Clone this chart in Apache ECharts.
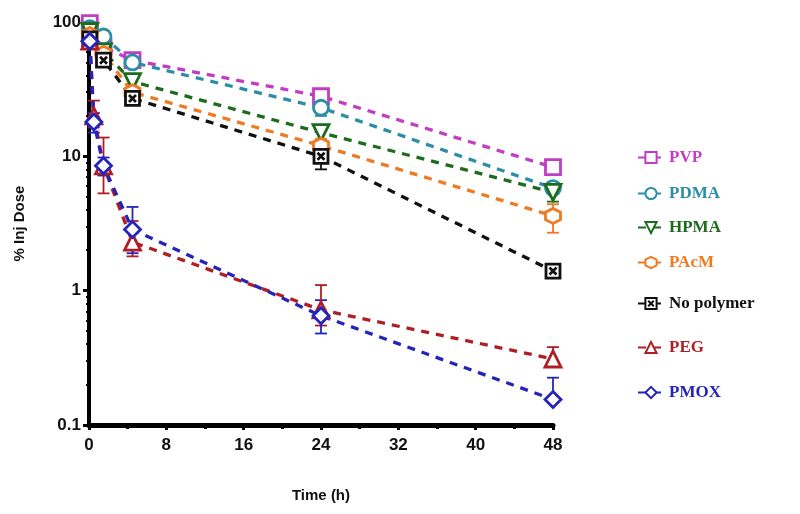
<!DOCTYPE html>
<html><head><meta charset="utf-8">
<script src="https://cdn.jsdelivr.net/npm/echarts@6/dist/echarts.min.js"></script>
<style>html,body{margin:0;padding:0;background:#fff}#c{width:800px;height:514px}</style>
</head><body><div id="c"></div>
<script>
// ---- data ----
const xTicks = [0, 8, 16, 24, 32, 40, 48];
const yTicks = [0.1, 1, 10, 100];
const timesA = [0.083, 1.5, 4.5, 24, 48];
const timesB = [0.083, 0.5, 1.5, 4.5, 24, 48];

const pvp      = [98, 65, 52, 28, 8.3];
const pvpLo    = [92, 61, 49, 26, 7.6];
const pvpHi    = [104, 69, 56, 30, 9.0];

const pdma     = [90, 78, 50, 23, 5.8];
const pdmaLo   = [84, 72, 46, 20, 5.3];
const pdmaHi   = [96, 84, 54, 26, 6.3];

const hpma     = [85, 60, 36, 15, 5.4];
const hpmaLo   = [80, 56, 33, 13.5, 4.6];
const hpmaHi   = [90, 64, 39, 16.5, 6.4];

const pacm     = [80, 58, 30, 12, 3.6];
const pacmLo   = [75, 54, 27, 10.5, 2.7];
const pacmHi   = [85, 62, 33, 13.5, 4.4];

const nopoly   = [75, 52, 27, 10, 1.4];
const nopolyLo = [70, 48, 25, 8.0, 1.3];
const nopolyHi = [80, 56, 29, 12, 1.5];

const peg      = [72, 20, 8.5, 2.3, 0.72, 0.31];
const pegLo    = [66, 16.4, 5.3, 1.8, 0.55, 0.28];
const pegHi    = [78, 26, 13.8, 3.3, 1.1, 0.38];

const pmox     = [72, 18, 8.5, 2.85, 0.65, 0.155];
const pmoxLo   = [66, 15, 7.2, 1.9, 0.48, 0.15];
const pmoxHi   = [78, 21, 9.8, 4.2, 0.85, 0.225];

const names  = ['PVP', 'PDMA', 'HPMA', 'PAcM', 'No polymer', 'PEG', 'PMOX'];
const colors = ['#c23cc4', '#2c8ea6', '#1e6b1e', '#f07a22', '#111111', '#b01e24', '#2424bd'];
// ---------------------------------------

const sets = [
  {t: timesA, v: pvp, lo: pvpLo, hi: pvpHi, sym: 'rect', size: 15, rot: 0},
  {t: timesA, v: pdma, lo: pdmaLo, hi: pdmaHi, sym: 'circle', size: 15, rot: 0},
  {t: timesA, v: hpma, lo: hpmaLo, hi: hpmaHi, sym: 'triangle', size: 16, rot: 180},
  {t: timesA, v: pacm, lo: pacmLo, hi: pacmHi, sym: 'path://M5,0L9.33,2.5L9.33,7.5L5,10L0.67,7.5L0.67,2.5Z', size: 15, rot: 0},
  {t: timesA, v: nopoly, lo: nopolyLo, hi: nopolyHi, sym: 'path://M0,0L10,0L10,10L0,10Z M2.5,2.5L7.5,7.5 M7.5,2.5L2.5,7.5', size: 14, rot: 0},
  {t: timesB, v: peg, lo: pegLo, hi: pegHi, sym: 'triangle', size: 16, rot: 0},
  {t: timesB, v: pmox, lo: pmoxLo, hi: pmoxHi, sym: 'diamond', size: 16, rot: 0}
];

const series = [];
sets.forEach((s, i) => {
  const c = colors[i];
  series.push({
    type: 'custom',
    name: names[i] + ' err',
    data: s.t.map((t, k) => [t, s.lo[k], s.hi[k]]),
    renderItem: function (params, api) {
      const x = api.value(0);
      const p1 = api.coord([x, api.value(1)]);
      const p2 = api.coord([x, api.value(2)]);
      const w = 6;
      const st = {stroke: c, lineWidth: 1.8};
      return {type: 'group', children: [
        {type: 'line', shape: {x1: p1[0], y1: p1[1], x2: p2[0], y2: p2[1]}, style: st},
        {type: 'line', shape: {x1: p1[0] - w, y1: p1[1], x2: p1[0] + w, y2: p1[1]}, style: st},
        {type: 'line', shape: {x1: p2[0] - w, y1: p2[1], x2: p2[0] + w, y2: p2[1]}, style: st}
      ]};
    },
    z: 3,
    silent: true
  });
  series.push({
    type: 'line',
    name: names[i],
    data: s.t.map((t, k) => [t, s.v[k]]),
    symbol: s.sym,
    symbolSize: s.size,
    symbolRotate: s.rot,
    showAllSymbol: true,
    lineStyle: {color: c, width: 3.3, type: [8, 7]},
    itemStyle: {color: '#ffffff', borderColor: c, borderWidth: 2.8},
    z: 4
  });
});

const legendTops = [144, 180, 214, 249, 290, 334, 379];
const legends = names.map((n, i) => ({
  data: [{name: n, textStyle: {color: colors[i]}}],
  left: 632, top: legendTops[i],
  itemWidth: 26, itemHeight: 14, itemGap: 6,
  textStyle: {fontFamily: 'Liberation Serif', fontWeight: 'bold', fontSize: 17},
  selectedMode: false
}));

const axisFont = {fontFamily: 'Liberation Sans', fontWeight: 'bold', fontSize: 17, color: '#111'};

const chart = echarts.init(document.getElementById('c'));
chart.setOption({
  animation: false,
  backgroundColor: '#fff',
  legend: legends,
  grid: {left: 89, right: 247, top: 22, bottom: 89},
  xAxis: {
    type: 'value', min: 0, max: 48, interval: 8,
    name: 'Time (h)', nameLocation: 'middle', nameGap: 63,
    nameTextStyle: {fontFamily: 'Liberation Sans', fontWeight: 'bold', fontSize: 15, color: '#111'},
    axisLine: {lineStyle: {color: '#000', width: 5}},
    axisTick: {show: true, length: 5, lineStyle: {color: '#000', width: 3}},
    minorTick: {show: true, splitNumber: 2, length: 4, lineStyle: {color: '#000', width: 3}},
    axisLabel: Object.assign({margin: 12}, axisFont, {formatter: v => xTicks.includes(v) ? String(v) : ''}),
    splitLine: {show: false}
  },
  yAxis: {
    type: 'log', min: 0.1, max: 100, logBase: 10,
    name: '% Inj Dose', nameLocation: 'middle', nameGap: 62, nameRotate: 90,
    nameTextStyle: {fontFamily: 'Liberation Sans', fontWeight: 'bold', fontSize: 15, color: '#111'},
    axisLine: {show: true, lineStyle: {color: '#000', width: 4}},
    axisTick: {show: true, length: 6, lineStyle: {color: '#000', width: 3}},
    minorTick: {show: true, splitNumber: 9, length: 3, lineStyle: {color: '#000', width: 2}},
    axisLabel: Object.assign({margin: 8}, axisFont, {formatter: v => {
      const f = yTicks.find(t => Math.abs(t - v) / t < 1e-6);
      return f !== undefined ? String(f) : '';
    }}),
    splitLine: {show: false}
  },
  series: series
});
</script>
</body></html>
